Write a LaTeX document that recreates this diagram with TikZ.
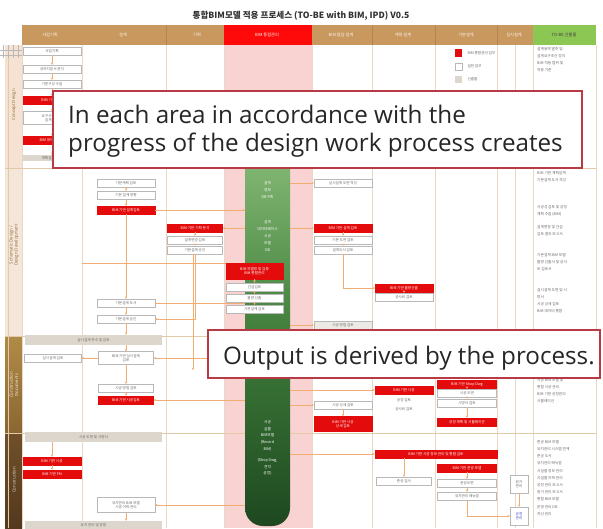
\documentclass[tikz,border=0pt]{standalone}
\usepackage{fontspec}
\setmainfont{Open Sans}
\newfontfamily\kr{Noto Sans CJK KR}
\usetikzlibrary{arrows.meta,calc}
\definecolor{hdr}{HTML}{C9985E}
\definecolor{hdrline}{HTML}{B4864F}
\definecolor{hred}{HTML}{FF0A0A}
\definecolor{hgreen}{HTML}{8CC653}
\definecolor{pinkcol}{HTML}{F9D2D2}
\definecolor{colline}{HTML}{E8D8C4}
\definecolor{rowline}{HTML}{E2C9AA}
\definecolor{boxred}{HTML}{E30B0B}
\definecolor{boxline}{HTML}{B8B8B8}
\definecolor{barg}{HTML}{DCD6CC}
\definecolor{lineor}{HTML}{F2AE72}
\definecolor{callred}{HTML}{B83A44}
\definecolor{strip1}{HTML}{F6E2D2}
\definecolor{strip2}{HTML}{F4E7DA}
\definecolor{brown1}{HTML}{B08B47}
\definecolor{brown2}{HTML}{8B6631}
\definecolor{brown3}{HTML}{70502A}
\definecolor{brown4}{HTML}{55391D}
\definecolor{txtgray}{HTML}{6A6A6A}
\definecolor{pilltop}{HTML}{86BA76}
\definecolor{pillmid}{HTML}{3E7C3A}
\definecolor{pillbot}{HTML}{1E4820}
\begin{document}
\begin{tikzpicture}[x=1pt,y=-1pt,
  tiny/.style={font=\kr\fontsize{3.6}{4.4}\selectfont},
  wb/.style={tiny,draw=boxline,fill=white,line width=0.4pt,minimum width=58pt,minimum height=8pt,inner sep=0.5pt,text=txtgray,align=center},
  rb/.style={wb,fill=boxred,draw=boxred,text=white},
  gb/.style={tiny,fill=barg,draw=none,minimum width=137pt,minimum height=10pt,inner sep=0pt,text=txtgray},
  conn/.style={draw=lineor,line width=0.6pt,-{Stealth[length=2.4pt,width=2.4pt]}},
  plain/.style={draw=lineor,line width=0.6pt},
  hlab/.style={text=white!90!hdr,font=\kr\fontsize{4.2}{5}\selectfont},
  outtxt/.style={anchor=north west,align=left,text=txtgray,font=\kr\fontsize{3.7}{7.2}\selectfont,inner sep=0pt},
  pilltxt/.style={align=center,text=white,font=\kr\fontsize{3.7}{6.8}\selectfont,inner sep=0pt},
  callbox/.style={draw=callred,line width=1.3pt,fill=white},
  calltext/.style={anchor=base west,inner sep=0pt,text=black!85,font=\fontsize{24.2}{28}\selectfont}
]
\useasboundingbox (0,0) rectangle (603,528);
\fill[white] (0,0) rectangle (603,528);

% title
\node[font=\kr\bfseries\fontsize{8.6}{9}\selectfont,text=black!80] (title) at (301,16) {통합BIM모델 적용 프로세스 (TO-BE with BIM, IPD) V0.5};

% body background
\fill[pinkcol] (224,45) rectangle (312,528);
% left strip
\fill[strip1] (5,45) rectangle (22,168);
\fill[strip2] (5,168) rectangle (22,336);
\shade[top color=brown1,bottom color=brown2] (5,336) rectangle (22,433);
\shade[top color=brown3,bottom color=brown4] (5,433) rectangle (22,528);
\draw[rowline,line width=0.4pt] (8,45) -- (8,528);
\foreach \yy in {50,55} \draw[boxline,line width=0.3pt] (0,\yy) -- (22,\yy);
\foreach \xx in {3,8,13,18} \draw[boxline,line width=0.3pt] (\xx,45) -- (\xx,58);

% column lines
\foreach \xx in {22,82,166,224,312,372,435,497,515,533,596}
  \draw[colline,line width=0.5pt] (\xx,45) -- (\xx,528);
% row lines
\foreach \yy in {168,336,433}
  \draw[rowline,line width=0.5pt] (5,\yy) -- (596,\yy);

% header
\fill[hdr] (22,25) rectangle (533,45);
\fill[hred] (224,25) rectangle (312,45);
\fill[hgreen] (533,25) rectangle (596,45);
\foreach \xx in {166,372,435,497}
  \draw[hdrline,line width=0.5pt] (\xx,25) -- (\xx,45);
\node[hlab] (hd1) at (50,35) {사업기획};
\node[hlab] (hd2) at (123,35) {설계};
\node[hlab] (hd3) at (197,35) {기획};
\node[hlab] (hd4) at (267,35) {BIM 통합관리};
\node[hlab] (hd5) at (341,35) {BIM 협업 설계};
\node[hlab] (hd6) at (403,35) {계획 설계};
\node[hlab] (hd7) at (466,35) {기본설계};
\node[hlab] (hd8) at (514,35) {실시설계};
\node[hlab,text=black!75] (hd9) at (564,35) {TO-BE 산출물};

% strip labels
\node[rotate=90,font=\fontsize{4.3}{5}\selectfont,text=brown2] (s1) at (14,105) {Concept Design};
\node[rotate=90,font=\fontsize{4.3}{5.2}\selectfont,text=brown2,align=center] (s2) at (14,245) {Schematic Design /\\Design Development};
\node[rotate=90,font=\fontsize{4.3}{5.2}\selectfont,text=white!85!brown1,align=center] (s3) at (14,385) {Construction\\Documents};
\node[rotate=90,font=\fontsize{4.3}{5}\selectfont,text=white!80!brown3] (s4) at (14,480) {Construction};

% legend
\fill[boxred] (455,49) rectangle (462,57);
\node[tiny,anchor=west,text=txtgray] (lg1) at (464,53) {BIM 통합관리 업무};
\draw[boxline,fill=white,line width=0.4pt] (455,63) rectangle (462,70);
\node[tiny,anchor=west,text=txtgray] (lg2) at (464,66.5) {일반 업무};
\fill[barg] (455,76) rectangle (462,83);
\node[tiny,anchor=west,text=txtgray] (lg3) at (464,79.5) {산출물};

% pill
\shade[top color=pilltop,bottom color=pillbot,middle color=pillmid,rounded corners=18pt] (245,150) rectangle (290,526);
\coordinate (pillW) at (245,300);
\coordinate (pillE) at (290,300);
\node[pilltxt] (pt1) at (267.5,190) {설계\\정보\\DB구축};
\node[pilltxt] (pt2) at (267.5,236) {설계\\데이터베이스\\시공\\모델\\DB};
\node[pilltxt] (pt3) at (267.5,448) {시공\\실물\\BIM모델\\(Record\\BIM)\\[4pt](Shop Dwg,\\견적\\공정)};

% concept design column
\node[wb] (a1) at (52,51) {사업기획};
\node[wb] (a2) at (52,69) {공모지침서 분석};
\node[wb] (a3) at (52,84) {기본구상 수립};
\node[rb] (a4) at (52,100) {BIM 기반 설계};
\node[wb,minimum height=13pt] (a5) at (52,118) {요구사항 정의\\설계 기준};
\node[rb] (a6) at (52,140) {BIM 데이터 구축};
\node[gb,minimum width=58pt,minimum height=6pt] (a7) at (52,158) {계획설계 착수};
\foreach \u/\v in {a1/a2,a2/a3,a3/a4,a4/a5,a5/a6,a6/a7}
  \draw[conn] (\u) -- (\v);

% schematic design
\node[wb] (b1) at (126,183) {기본계획 검토};
\node[wb] (b2) at (126,195) {기본 설계 방향};
\node[rb] (b3) at (126,210) {BIM 기반 설계검토};
\node[rb,minimum width=55pt] (c1) at (195,228) {BIM 기반 기획 분석};
\node[wb,minimum width=55pt] (c2) at (195,240) {설계변경 검토};
\node[wb,minimum width=55pt] (c3) at (195,250) {기본설계 승인};
\node[rb,minimum width=57pt,minimum height=16pt] (p1) at (254.5,271) {BIM 모델링 및 검증\\BIM 통합관리};
\node[wb,minimum width=57pt] (p2) at (254.5,287) {간섭검토};
\node[wb,minimum width=57pt] (p3) at (254.5,298) {물량 산출};
\node[wb,minimum width=57pt] (p4) at (254.5,309) {기본설계 검토};
\node[wb] (d1) at (343,183) {실시설계 도면 작성};
\node[rb] (d2) at (343,228) {BIM 기반 설계 검토};
\node[wb] (d3) at (343,240) {기본 도면 검토};
\node[wb] (d4) at (343,250) {설계도서 검토};
\node[wb,fill=barg!50] (d5) at (343,325) {시공 방법 검토};
\node[rb] (e1) at (404,288) {BIM 기반 물량산출};
\node[wb] (e2) at (404,297) {공사비 검토};
\node[wb] (b4) at (126,303) {기본설계 도서};
\node[wb] (b5) at (126,319) {기본설계 승인};
\node[gb] (g1) at (93.5,340) {실시설계 착수 및 검토};

\foreach \u/\v in {b1/b2,b2/b3,b3/b4,b4/b5,c1/c2,c2/c3,d2/d3,d3/d4,p1/p2,p2/p3,p3/p4,e1/e2}
  \draw[conn] (\u) -- (\v);
\draw[conn] (b5.south) -- (b5.south |- g1.north);
\draw[conn] (b3.east) -- (b3.east -| pillW);
\draw[conn] (d1.west -| pillE) -- (d1.west);
\draw[conn] (c1.east -| pillW) -- (c1.east);
\draw[conn] (d2.west -| pillE) -- (d2.west);
\draw[conn] (d4.south) |- (e1.west);
\draw[conn] (c3.south) |- (b5.east);
\draw[conn] (d5.west -| pillE) -- (d5.west);
\coordinate (lx) at (82,263);
\draw[plain] (lx) -- (lx -| p1.west);
\draw[plain] (b4.east) -- (b4.east -| pillW);

% construction documents
\node[wb,minimum width=57pt] (a8) at (53,358) {실시설계 검토};
\node[wb,minimum width=55pt,minimum height=13pt] (b6) at (126,358) {BIM 기반 실시설계\\검토};
\node[wb,minimum width=55pt] (b7) at (126,388) {시공 방법 검토};
\node[rb,minimum width=55pt] (b8) at (126,400) {BIM 기반 시공검토};
\node[gb] (g2) at (93.5,437) {시공 도면 및 시방서};
\node[wb] (d6) at (343,405) {시공 상세 검토};
\node[rb,minimum height=15pt] (d7) at (343,424) {BIM 기반 시공\\상세 검토};
\node[rb] (e3) at (404,390) {BIM 기반 시공};
\node[wb,draw=none,fill=none] (e4) at (404,400) {공정 검토};
\node[wb,draw=none,fill=none] (e4b) at (404,409) {공사비 검토};
\node[rb,minimum width=59pt] (h1) at (467,384) {BIM 기반 Shop Dwg};
\node[wb,minimum width=59pt] (h2) at (467,393) {시공 도면};
\node[wb,minimum width=59pt] (h3) at (467,403) {시방서 검토};
\node[rb,minimum width=59pt] (h4) at (467,422) {공정 계획 및 시뮬레이션};

\draw[conn] (g1.south -| b6) -- (b6.north);
\draw[conn] (b6.west) -- (a8.east);
\draw[conn] (b6.east -| pillW) -- (b6.east);
\draw[conn] (b6) -- (b7);
\draw[conn] (b7) -- (b8);
\draw[conn] (b8.east -| pillW) -- (b8.east);
\draw[conn] (d6.west -| pillE) -- (d6.west);
\draw[conn] (d6) -- (d7);
\draw[conn] (e3.west -| pillE) -- (e3.west);
\draw[conn] (h1) -- (h2);
\draw[conn] (h2) -- (h3);
\draw[conn] (h3) -- (h4);
\coordinate (vx) at (193,370);
\draw[conn] (vx |- c3.south) -- (vx);

% construction
\node[rb] (a9) at (52,461) {BIM 기반 시공};
\node[rb] (a10) at (52,474) {BIM 기반 FM};
\node[wb,minimum width=58pt,minimum height=15pt] (b9) at (126,505) {유지관리 BIM 모델\\시공 이력 관리};
\node[gb,minimum height=8pt] (g3) at (93.5,525) {유지 관리 및 운영};
\node[rb,minimum width=122pt] (e5) at (436,454) {BIM 기반 시공 정보 관리 및 통합 검토};
\node[rb,minimum width=59pt] (h5) at (467,468) {BIM 기반 준공 모델};
\node[wb,minimum width=59pt] (h6) at (467,483) {준공도면};
\node[wb,minimum width=59pt] (h7) at (467,496) {유지관리 매뉴얼};
\node[wb,minimum width=55pt] (e6) at (404,481) {준공 검사};
\node[wb,minimum width=18pt,minimum height=18pt] (k1) at (519,484) {원가\\관리};
\node[wb,minimum width=18pt,minimum height=18pt,text=blue!50!gray] (k2) at (519,516) {공정\\관리};

\draw[conn] (g2.south -| a9) -- (a9.north);
\draw[conn] (a9) -- (a10);
\draw[conn] (e5.west -| pillE) -- (e5.west);
\draw[conn] (h5) -- (h6);
\draw[conn] (h6) -- (h7);
\draw[conn] (e5.south -| e6) -- (e6.north);
\draw[conn] (k1) -- (k2);
\draw[conn] (b9.east -| pillW) -- (b9.east);
\draw[conn] (b9.south) -- (b9.south |- g3.north);
\draw[conn] (h7.south) |- (k2.west);

% output column text
\node[outtxt] (o1) at (537,47) {설계용역 발주 및\\설계요구조건 정의\\BIM 적용 범위 및\\적용 기준};
\node[outtxt] (o2) at (537,171) {BIM 기반 계획설계\\기본설계 도서 작성};
\node[outtxt] (o3) at (537,205) {시공성 검토 및 공정\\계획 수립 (BIM)};
\node[outtxt] (o4) at (537,225) {설계변경 및 간섭\\검토 결과 보고서};
\node[outtxt] (o5) at (537,253) {기본설계 BIM 모델\\물량 산출서 및 공사\\비 검토서};
\node[outtxt] (o6) at (537,288) {실시설계 도면 및 시\\방서\\시공 상세 검토\\BIM 데이터 통합};
\node[outtxt] (o7) at (537,378) {시공 BIM 모델 및\\통합 시공 관리\\BIM 기반 공정관리\\시뮬레이션};
\node[outtxt] (o8) at (537,440) {준공 BIM 모델\\유지관리 시스템 연계\\준공 도서\\유지관리 매뉴얼\\시설물 정보 관리\\시설물 이력 관리\\공정 관리 보고서\\원가 관리 보고서\\통합 BIM 모델\\운영 관리 DB\\자산 관리};

% callouts
\node[callbox,minimum width=529pt,minimum height=77pt] (co1) at (317.5,129.5) {};
\node[calltext] (t1) at (68,123) {In each area in accordance with the};
\node[calltext] (t2) at (68,151) {progress of the design work process creates};
\node[callbox,minimum width=392pt,minimum height=48pt] (co2) at (404,354) {};
\node[calltext] (t3) at (223,364) {Output is derived by the process.};
\end{tikzpicture}
\end{document}
